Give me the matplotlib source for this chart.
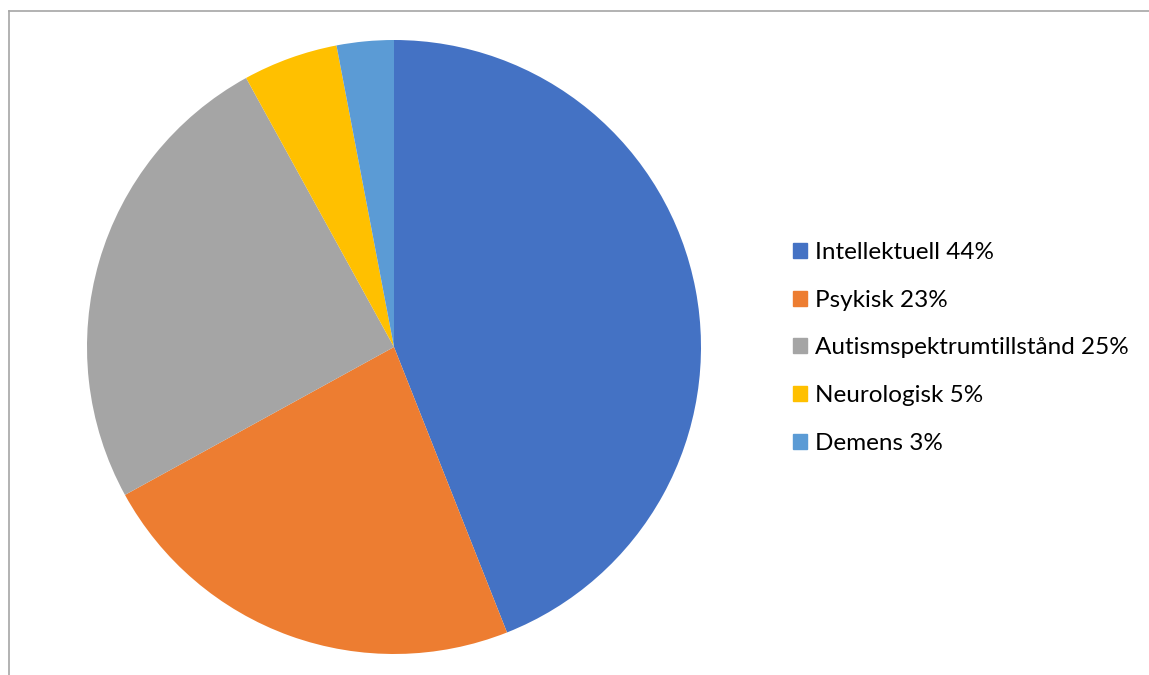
import matplotlib.pyplot as plt
from matplotlib.lines import Line2D

# share of each category (percent)
categories = ['Intellektuell', 'Psykisk', 'Autismspektrumtillstånd', 'Neurologisk', 'Demens']
shares = [44, 23, 25, 5, 3]
colors = ['#4472C4', '#ED7D31', '#A5A5A5', '#FFC000', '#5B9BD5']
labels = [f'{c} {s}%' for c, s in zip(categories, shares)]

plt.rcParams['font.family'] = ['Lato', 'DejaVu Sans']

fig = plt.figure(figsize=(11.49, 6.75), dpi=100)
W, H = 1149, 675

# pie axes, square area in pixels
ax = fig.add_axes([87 / W, (H - 654) / H, 614 / W, 614 / H])
ax.pie(shares, colors=colors, startangle=90, counterclock=False, radius=1,
       wedgeprops=dict(linewidth=0))
ax.set_xlim(-1, 1)
ax.set_ylim(-1, 1)
ax.set_aspect('equal')
ax.axis('off')

# thin chart-area border on the left and top
fig.add_artist(Line2D([8.5 / W, 8.5 / W], [0, 1 - 11 / H], color='#A6A6A6', lw=1.2))
fig.add_artist(Line2D([8.5 / W, 1], [1 - 11 / H, 1 - 11 / H], color='#A6A6A6', lw=1.2))

# legend
handles = [plt.Rectangle((0, 0), 1, 1, color=c) for c in colors]
leg = fig.legend(handles, labels, loc='center left',
                 bbox_to_anchor=(793 / W, 1 - 348 / H),
                 frameon=False, fontsize=17.5, handlelength=0.57, handleheight=0.57,
                 handletextpad=0.33, labelspacing=1.1, borderpad=0, borderaxespad=0)

fig.savefig('out.png', dpi=100)
